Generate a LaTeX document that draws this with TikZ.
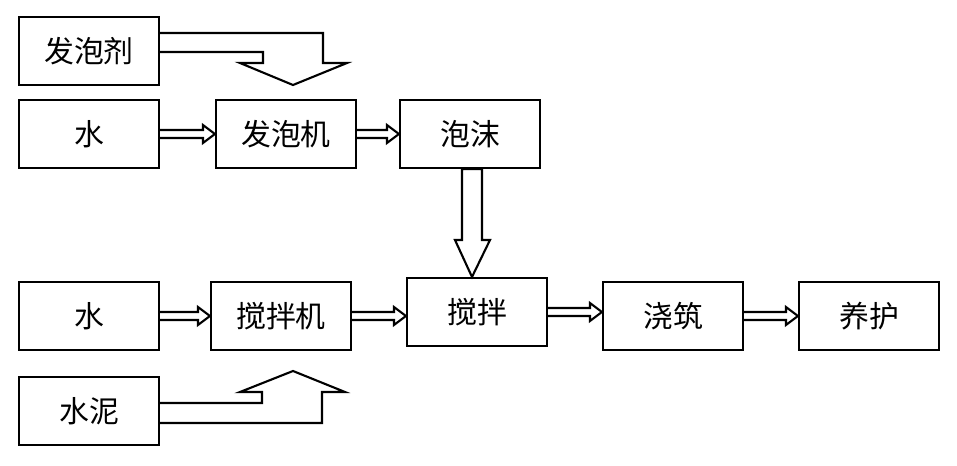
\documentclass[tikz,border=0pt]{standalone}
\usepackage{fontspec}
\setmainfont{Noto Sans CJK SC}
\usetikzlibrary{positioning,calc}
\tikzset{
  box/.style  ={draw,line width=1.2pt,minimum width=2.8cm,minimum height=1.36cm,
                font=\fontsize{17}{20}\selectfont,inner sep=0pt},
  harr/.style ={draw,line width=1.2pt,fill=white,line join=miter}
}
% hollow arrow pointing right, from #1 to #2
\newcommand{\hollowR}[2]{%
  \draw[harr] ($(#1.east)+(0,-4)$) -- ($(#2.west |- #1.east)+(-12,-4)$)
    -- ++(0,-5) -- (#2.west |- #1.east) -- ++(-12,9) -- ++(0,-5)
    -- ($(#1.east)+(0,4)$);}

\begin{document}
\begin{tikzpicture}[x=0.02cm,y=-0.02cm]
\useasboundingbox (0,0) rectangle (957,466);

\node[box] (agent) at (89,51)  {发泡剂};
\node[box] (wat1)  at (89,134) {水};
\node[box] (gen)   at (286,134){发泡机};
\node[box] (foam)  at (470,134){泡沫};
\node[box] (wat2)  at (89,316) {水};
\node[box] (mixer) at (281,316){搅拌机};
\node[box] (mix)   at (477,312){搅拌};
\node[box] (pour)  at (673,316){浇筑};
\node[box] (cure)  at (869,316){养护};
\node[box] (cem)   at (89,411) {水泥};

\hollowR{wat1}{gen}
\hollowR{gen}{foam}
\hollowR{wat2}{mixer}
\hollowR{mixer}{mix}
\hollowR{mix}{pour}
\hollowR{pour}{cure}

% bent arrow into the foam generator
\draw[harr] (agent.east |- 0,33) -- (323,33) -- (323,63) -- (347,63)
  -- (293,85) -- (240,63) -- (263,63) -- (263,52) -- (agent.east |- 0,52);
% bent arrow into the mixer
\draw[harr] (cem.east |- 0,423) -- (322,423) -- (322,392) -- (345,392)
  -- (293,371) -- (240,392) -- (262,392) -- (262,403) -- (cem.east |- 0,403);
% foam down to mixing
\draw[harr] (foam.south -| 462,0) -- (462,240) -- (455,240) -- (472,240 |- mix.north)
  -- (490,240) -- (482,240) -- (foam.south -| 482,0) -- cycle;
\end{tikzpicture}
\end{document}
